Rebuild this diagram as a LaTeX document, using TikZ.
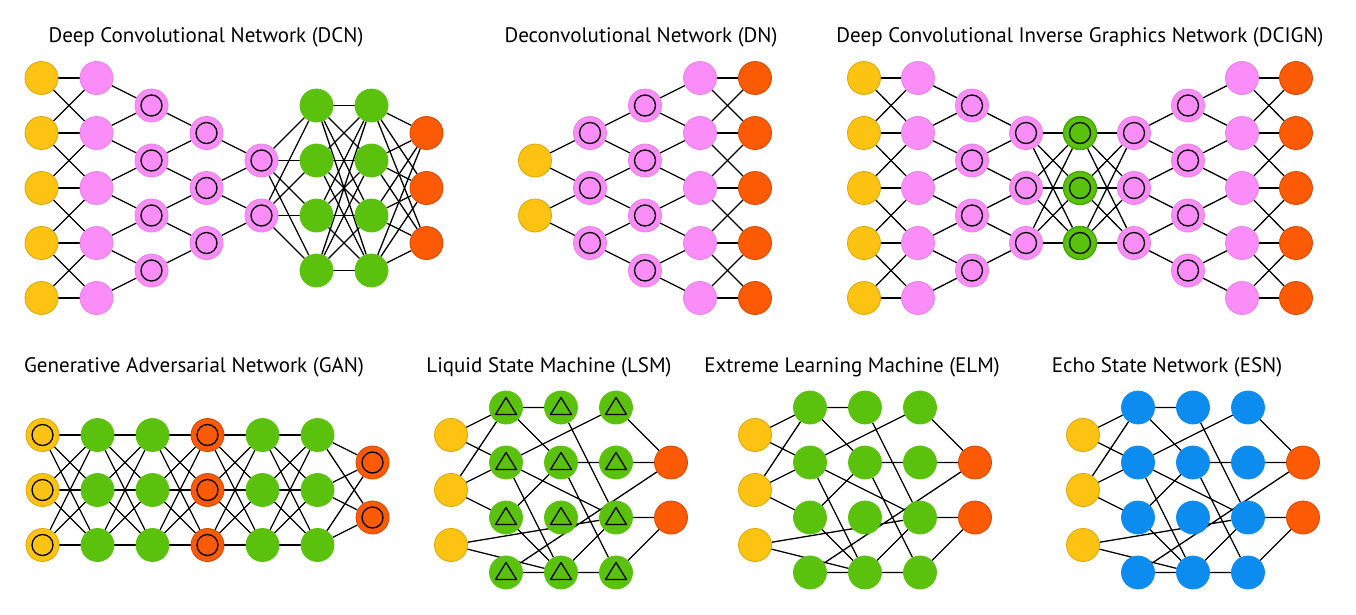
\documentclass[tikz,border=0pt]{standalone}
\usepackage{fontspec}
\setmainfont{PT Sans}
\definecolor{cyel}{HTML}{FDC313}
\definecolor{cyelD}{HTML}{DDA700}
\definecolor{cpink}{HTML}{FB8DF9}
\definecolor{cpinkD}{HTML}{EA80E8}
\definecolor{cgrn}{HTML}{5AC20C}
\definecolor{cgrnD}{HTML}{48A808}
\definecolor{corg}{HTML}{FC5A05}
\definecolor{corgD}{HTML}{D44A00}
\definecolor{cblu}{HTML}{0C8CEF}
\pgfdeclarelayer{bg}
\pgfdeclarelayer{edges}
\pgfsetlayers{bg,edges,main}
\tikzset{
  neuron/.style={circle, minimum size=33pt, inner sep=0pt, line width=0.8pt},
  yel/.style={neuron, fill=cyel, draw=cyelD},
  pnk/.style={neuron, fill=cpink, draw=cpinkD},
  grn/.style={neuron, fill=cgrn, draw=cgrn},
  grnd/.style={neuron, fill=cgrn, draw=cgrnD, line width=1.4pt},
  org/.style={neuron, fill=corg, draw=corgD},
  blu/.style={neuron, fill=cblu, draw=cblu},
  ring/.style={path picture={\draw[black, line width=1.3pt] (path picture bounding box.center) circle[radius=10.5pt];}},
  tri/.style={path picture={\draw[black, line width=1.3pt, line join=round]
      ([shift={(-10.5pt,-7pt)}]path picture bounding box.center) --
      ([shift={(10.5pt,-7pt)}]path picture bounding box.center) --
      ([shift={(0pt,10pt)}]path picture bounding box.center) -- cycle;}},
  link/.style={draw=black, line width=1.3pt},
  title/.style={font=\fontsize{21}{25}\selectfont, inner sep=0pt, anchor=center},
}
% column of nodes: prefix, style, x, y0, list of half-steps
\newcommand\nnCol[5]{\foreach \mm [count=\cc] in {#5} {\node[#2] (#1-\cc) at (#3, {#4+27.5*\mm}) {};}}
\newcommand\nnFull[4]{\foreach \ii in {1,...,#2}{\foreach \jj in {1,...,#4}{\draw[link] (#1-\ii) -- (#3-\jj);}}}
\newcommand\nnBand[3]{\foreach \ii in {1,...,#3}{\foreach \jj in {1,...,#3}{\pgfmathtruncatemacro\nnd{abs(\ii-\jj)}\ifnum\nnd<2 \draw[link] (#1-\ii) -- (#2-\jj);\fi}}}
\newcommand\nnShrink[3]{\foreach \jj in {1,...,#3}{\pgfmathtruncatemacro\nnk{\jj+1}\draw[link] (#1-\jj) -- (#2-\jj) (#1-\nnk) -- (#2-\jj);}}
% reservoir-type network: prefix, x0, hidden style
\newcommand\nnRes[3]{%
  \nnCol{#1i}{yel}{#2}{407.5}{1,3,5}
  \nnCol{#1a}{#3}{#2+55}{407.5}{0,2,4,6}
  \nnCol{#1b}{#3}{#2+110}{407.5}{0,2,4,6}
  \nnCol{#1c}{#3}{#2+165}{407.5}{0,2,4,6}
  \nnCol{#1o}{org}{#2+220}{407.5}{2,4}
  \begin{pgfonlayer}{edges}
  \draw[link] (#1i-1) -- (#1a-1) (#1i-1) -- (#1a-2)
              (#1i-2) -- (#1a-1) (#1i-2) -- (#1a-2) (#1i-2) -- (#1a-3)
              (#1i-3) -- (#1c-3) (#1i-3) -- (#1b-4)
              (#1a-1) -- (#1b-1) (#1a-1) -- (#1b-2)
              (#1a-2) -- (#1c-1) (#1a-2) -- (#1c-3) (#1a-2) -- (#1b-4)
              (#1a-3) -- (#1b-2) (#1a-3) -- (#1b-4)
              (#1a-4) -- (#1b-4) (#1a-4) -- (#1o-1)
              (#1b-1) -- (#1c-3) (#1b-2) -- (#1c-2) (#1b-2) -- (#1c-4)
              (#1b-4) -- (#1c-3) (#1b-4) -- (#1c-4)
              (#1c-1) -- (#1o-1) (#1c-2) -- (#1o-1)
              (#1c-3) -- (#1o-2) (#1c-4) -- (#1o-2);
  \end{pgfonlayer}}
\begin{document}
\begin{tikzpicture}[x=1pt,y=-1pt]
\useasboundingbox (0,0) rectangle (1356,614);
\begin{pgfonlayer}{bg}
\fill[white] (0,0) rectangle (1356,614);
\end{pgfonlayer}

% ---------- titles ----------
\node[title] (t-dcn) at (206,37) {Deep Convolutional Network (DCN)};
\node[title] (t-dn) at (641,37) {Deconvolutional Network (DN)};
\node[title] (t-dcign) at (1080,37) {Deep Convolutional Inverse Graphics Network (DCIGN)};
\node[title] (t-gan) at (194,367) {Generative Adversarial Network (GAN)};
\node[title] (t-lsm) at (549,367) {Liquid State Machine (LSM)};
\node[title] (t-elm) at (852,367) {Extreme Learning Machine (ELM)};
\node[title] (t-esn) at (1167,367) {Echo State Network (ESN)};

% ---------- DCN ----------
\nnCol{dcnA}{yel}{41.5}{78}{0,2,4,6,8}
\nnCol{dcnB}{pnk}{96.5}{78}{0,2,4,6,8}
\nnCol{dcnC}{pnk,ring}{151.5}{78}{1,3,5,7}
\nnCol{dcnD}{pnk,ring}{206.5}{78}{2,4,6}
\nnCol{dcnE}{pnk,ring}{261.5}{78}{3,5}
\nnCol{dcnF}{grn}{316.5}{78}{1,3,5,7}
\nnCol{dcnG}{grn}{371.5}{78}{1,3,5,7}
\nnCol{dcnH}{org}{426.5}{78}{2,4,6}
\begin{pgfonlayer}{edges}
\nnBand{dcnA}{dcnB}{5}
\nnShrink{dcnB}{dcnC}{4}
\nnShrink{dcnC}{dcnD}{3}
\nnShrink{dcnD}{dcnE}{2}
\nnFull{dcnE}{2}{dcnF}{4}
\nnFull{dcnF}{4}{dcnG}{4}
\nnFull{dcnG}{4}{dcnH}{3}
\end{pgfonlayer}

% ---------- DN ----------
\nnCol{dnA}{yel}{535}{78}{3,5}
\nnCol{dnB}{pnk,ring}{590}{78}{2,4,6}
\nnCol{dnC}{pnk,ring}{645}{78}{1,3,5,7}
\nnCol{dnD}{pnk}{700}{78}{0,2,4,6,8}
\nnCol{dnE}{org}{755}{78}{0,2,4,6,8}
\begin{pgfonlayer}{edges}
\nnShrink{dnB}{dnA}{2}
\nnShrink{dnC}{dnB}{3}
\nnShrink{dnD}{dnC}{4}
\nnBand{dnD}{dnE}{5}
\end{pgfonlayer}

% ---------- DCIGN ----------
\nnCol{dgA}{yel}{864}{78}{0,2,4,6,8}
\nnCol{dgB}{pnk}{918}{78}{0,2,4,6,8}
\nnCol{dgC}{pnk,ring}{972}{78}{1,3,5,7}
\nnCol{dgD}{pnk,ring}{1026}{78}{2,4,6}
\nnCol{dgE}{grnd,ring}{1080}{78}{2,4,6}
\nnCol{dgF}{pnk,ring}{1134}{78}{2,4,6}
\nnCol{dgG}{pnk,ring}{1188}{78}{1,3,5,7}
\nnCol{dgH}{pnk}{1242}{78}{0,2,4,6,8}
\nnCol{dgI}{org}{1296}{78}{0,2,4,6,8}
\begin{pgfonlayer}{edges}
\nnBand{dgA}{dgB}{5}
\nnShrink{dgB}{dgC}{4}
\nnShrink{dgC}{dgD}{3}
\nnFull{dgD}{3}{dgE}{3}
\nnFull{dgE}{3}{dgF}{3}
\nnShrink{dgG}{dgF}{3}
\nnShrink{dgH}{dgG}{4}
\nnBand{dgH}{dgI}{5}
\end{pgfonlayer}

% ---------- GAN ----------
\nnCol{gaA}{yel,ring}{42.5}{435}{0,2,4}
\nnCol{gaB}{grn}{97.5}{435}{0,2,4}
\nnCol{gaC}{grn}{152.5}{435}{0,2,4}
\nnCol{gaD}{org,ring}{207.5}{435}{0,2,4}
\nnCol{gaE}{grn}{262.5}{435}{0,2,4}
\nnCol{gaF}{grn}{317.5}{435}{0,2,4}
\nnCol{gaG}{org,ring}{372.5}{435}{1,3}
\begin{pgfonlayer}{edges}
\nnFull{gaA}{3}{gaB}{3}
\nnFull{gaB}{3}{gaC}{3}
\nnFull{gaC}{3}{gaD}{3}
\nnFull{gaD}{3}{gaE}{3}
\nnFull{gaE}{3}{gaF}{3}
\nnFull{gaF}{3}{gaG}{2}
\end{pgfonlayer}

% ---------- LSM, ELM, ESN ----------
\nnRes{lsm}{451}{grn,tri}
\nnRes{elm}{755}{grn}
\nnRes{esn}{1083}{blu}
\end{tikzpicture}
\end{document}
